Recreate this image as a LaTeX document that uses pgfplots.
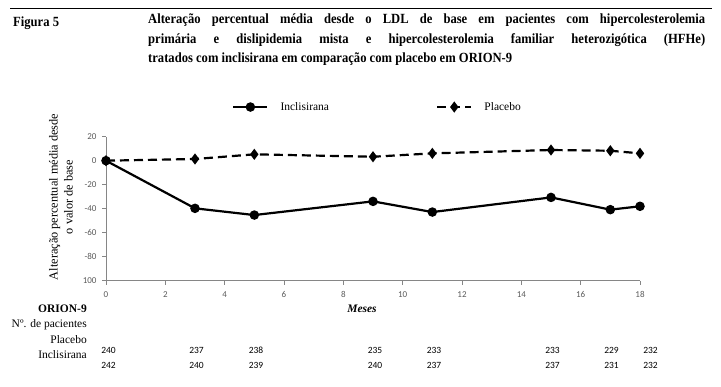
\documentclass[border=0pt]{standalone}
\usepackage{pgfplots}
\pgfplotsset{compat=1.18}
\usepackage{fontspec}
\setmainfont{Liberation Serif}
\newfontfamily\titlefont[FakeStretch=0.9]{Liberation Serif}
\newfontfamily\calibri{Carlito}
\definecolor{axgray}{RGB}{134,134,134}
\definecolor{tickgray}{RGB}{89,89,89}
\begin{document}
\begin{tikzpicture}[x=1pt,y=1pt]
\useasboundingbox (0,0) rectangle (721,387);
\draw[black, line width=0.8pt] (10,379) -- (712,379);
\node[anchor=base west, font=\titlefont\bfseries\fontsize{14}{19.5}\selectfont, inner sep=0] at (13,360) {Figura 5};
\node[anchor=north west, text width=557pt, align=justify, inner sep=0, font=\titlefont\bfseries\fontsize{14}{19.5}\selectfont] at (148,373) {Alteração percentual média desde o LDL de base em pacientes com hipercolesterolemia\linebreak primária e dislipidemia mista e hipercolesterolemia familiar heterozigótica (HFHe)\linebreak tratados com inclisirana em comparação com placebo em ORION-9};
\begin{axis}[at={(106pt,106.3pt)}, anchor=south west, width=534pt, height=144pt, scale only axis,
  xmin=0, xmax=18, ymin=-100, ymax=20,
  axis x line=bottom, axis y line=left,
  axis line style={draw=axgray, line width=0.8pt, -},
  tick style={draw=axgray, line width=0.8pt}, tick align=outside, major tick length=4pt,
  xtick={0,2,...,18}, ytick={-100,-80,...,20},
  yticklabels={100,-80,-60,-40,-20,0,20},
  ticklabel style={font=\calibri\fontsize{9}{10}\selectfont, text=tickgray},
  /pgf/number format/assume math mode=true,
  xticklabel style={yshift=-3pt}, yticklabel style={xshift=-2pt},
  clip=false,
  legend columns=2,
  legend style={draw=none, fill=none, at={(0.236,1.206)}, anchor=west, inner sep=0pt,
    font=\fontsize{11.5}{12}\selectfont,
    /tikz/every odd column/.append style={column sep=10pt},
    /tikz/every even column/.append style={column sep=105pt}},
  legend image code/.code={\draw[mark repeat=2,mark phase=2,#1] plot coordinates {(0cm,0cm) (0.6cm,0cm) (1.2cm,0cm)};},
]
\addplot[black, line width=2.2pt, mark=*, mark size=3.6pt] coordinates {
(0,0) (3,-39.7) (5,-45.3) (9,-33.9) (11,-42.8) (15,-30.6) (17,-40.8) (18,-38)};
\addlegendentry{Inclisirana}
\addplot[black, line width=2.2pt, dash pattern=on 9pt off 5pt, mark=diamond*, mark size=3.8pt, mark options={solid}] coordinates {
(0,0) (3,1.4) (5,5.3) (9,3.3) (11,6.1) (15,8.9) (17,8.3) (18,6.1)};
\addlegendentry{Placebo}
\end{axis}
\node[rotate=90, align=center, font=\fontsize{12.3}{15}\selectfont] at (61,190) {Alteração percentual média desde\\o valor de base};
\node[anchor=east, inner sep=0, font=\bfseries\fontsize{11.5}{12}\selectfont] at (87,78) {ORION-9};
\node[inner sep=0, font=\bfseries\itshape\fontsize{11.5}{12}\selectfont] at (362,78) {Meses};
\node[anchor=east, inner sep=0, font=\fontsize{11.5}{12}\selectfont] at (87,62) {Nº. de pacientes};
\node[anchor=east, inner sep=0, font=\fontsize{11.5}{12}\selectfont] at (87,47) {Placebo};
\node[anchor=east, inner sep=0, font=\fontsize{11.5}{12}\selectfont] at (87,32) {Inclisirana};
\foreach \x/\a/\b in {108.5/240/242, 196.5/237/240, 256/238/239, 375/235/240, 434/233/237, 552.5/233/237, 611.5/229/231, 650.5/232/232}{
  \node[font=\calibri\fontsize{9.5}{10}\selectfont] at (\x,37) {\a};
  \node[font=\calibri\fontsize{9.5}{10}\selectfont] at (\x,22) {\b};
}
\end{tikzpicture}
\end{document}
